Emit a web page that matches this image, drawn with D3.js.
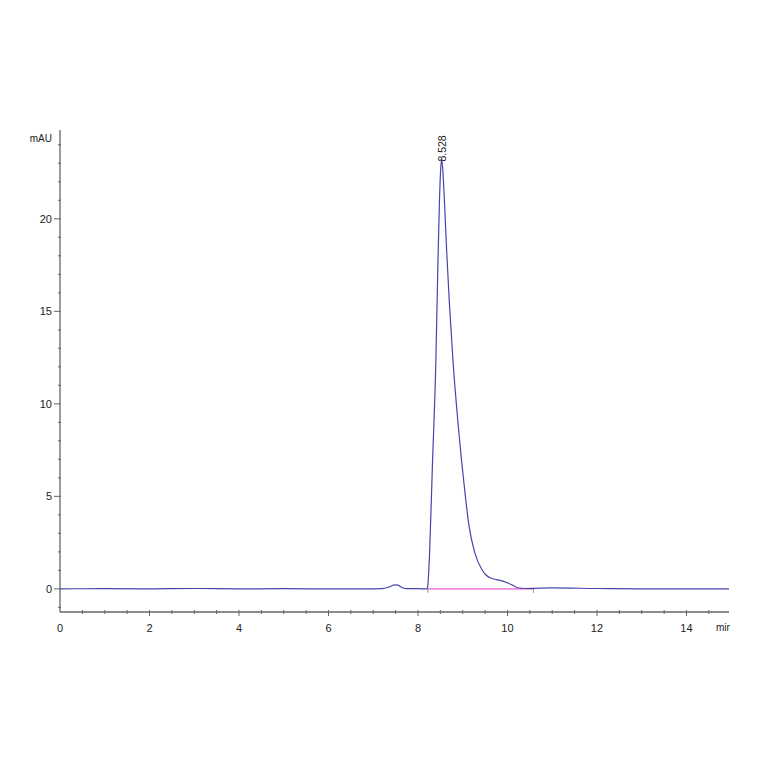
<!DOCTYPE html>
<html>
<head>
<meta charset="utf-8">
<script src="https://cdn.jsdelivr.net/npm/d3@7"></script>
<style>
  body { margin: 0; background: #fff; }
  svg text { font-family: "Liberation Sans", Arial, sans-serif; fill: #222; }
</style>
</head>
<body>
<svg id="chart" width="764" height="764"></svg>
<script>
// chromatogram trace (min, mAU)
var times = [0, 1, 2, 3, 4, 5, 6, 6.8, 7.2, 7.35, 7.45, 7.5, 7.55, 7.65, 7.75, 8.0, 8.2,
  8.22, 8.26, 8.32, 8.40, 8.44, 8.48, 8.51, 8.528, 8.55, 8.59, 8.64, 8.70, 8.78, 8.90,
  9.05, 9.14, 9.27, 9.43, 9.52, 9.61, 9.75, 9.88, 10.10, 10.23, 10.4, 10.6, 11, 12, 13, 14, 14.95];
var signal = [0, 0.01, 0, 0.02, 0, 0.01, 0, 0, 0.01, 0.1, 0.2, 0.22, 0.2, 0.06, 0.01, 0.01, 0,
  0.2, 2, 6.5, 12.4, 17, 21, 22.8, 23.2, 22.8, 21, 18.3, 15.5, 12.4, 8.8,
  5.2, 3.4, 1.95, 1.03, 0.75, 0.6, 0.5, 0.43, 0.22, 0.06, 0.02, 0.03, 0.05, 0.02, 0, 0, 0];

// integration baseline + peak label
var baseStart = 8.22, baseEnd = 10.58;
var peakTime = 8.528, peakHeight = 23.2, peakLabel = "8.528";

var xMajor = [0, 2, 4, 6, 8, 10, 12, 14];
var yMajor = [0, 5, 10, 15, 20];

var svg = d3.select("#chart");

var x = d3.scaleLinear().domain([0, 14.95]).range([60, 729]);
var y = d3.scaleLinear().domain([-1.25, 24.8]).range([612, 130]);

var axisColor = "#666";

// clip for the cut-off unit label at the right edge
svg.append("defs").append("clipPath").attr("id", "unitClip")
  .append("rect").attr("x", 700).attr("y", 612).attr("width", 30).attr("height", 30);

// x axis
var xAxisG = svg.append("g").attr("transform", "translate(0," + y.range()[0] + ")");
xAxisG.append("line").attr("x1", x.range()[0]).attr("x2", x.range()[1])
  .attr("y1", 0).attr("y2", 0).style("stroke", axisColor).style("stroke-width", 1.3);
xAxisG.selectAll("line.minor").data(d3.range(0.5, 14.95, 0.5)).enter().append("line")
  .attr("class", "minor")
  .attr("x1", function(d) { return x(d); }).attr("x2", function(d) { return x(d); })
  .attr("y1", -2).attr("y2", function(d) { return d % 2 === 0 ? 4 : 2; })
  .style("stroke", axisColor).style("stroke-width", 1);
xAxisG.selectAll("text.tick").data(xMajor).enter().append("text")
  .attr("class", "tick")
  .attr("x", function(d) { return x(d); }).attr("y", 20)
  .attr("font-size", "11px").style("text-anchor", "middle")
  .text(function(d) { return d; });

svg.append("text").attr("x", 716).attr("y", y.range()[0] + 19).attr("font-size", "10px")
  .attr("clip-path", "url(#unitClip)")
  .text("min");

// y axis
var yAxisG = svg.append("g").attr("transform", "translate(" + x.range()[0] + ",0)");
yAxisG.append("line").attr("x1", 0).attr("x2", 0)
  .attr("y1", y.range()[1]).attr("y2", y.range()[0])
  .style("stroke", axisColor).style("stroke-width", 1.3);
yAxisG.selectAll("line.minor").data(d3.range(-1, 25, 1)).enter().append("line")
  .attr("class", "minor")
  .attr("y1", function(d) { return y(d); }).attr("y2", function(d) { return y(d); })
  .attr("x1", function(d) { return d % 5 === 0 ? -6 : -2; }).attr("x2", 1)
  .style("stroke", axisColor).style("stroke-width", 1);
yAxisG.selectAll("text.tick").data(yMajor).enter().append("text")
  .attr("class", "tick")
  .attr("x", -8).attr("y", function(d) { return y(d) + 4; })
  .attr("font-size", "11px").style("text-anchor", "end")
  .text(function(d) { return d; });
yAxisG.append("text").attr("x", -8).attr("y", y.range()[1] + 12)
  .attr("font-size", "10px").style("text-anchor", "end").text("mAU");

// integration baseline
svg.append("line")
  .attr("x1", x(baseStart)).attr("x2", x(baseEnd))
  .attr("y1", y(0)).attr("y2", y(0))
  .style("stroke", "#f08ae0").style("stroke-width", 1.6);
svg.selectAll("line.mark").data([baseStart, baseEnd]).enter().append("line")
  .attr("class", "mark")
  .attr("x1", function(d) { return x(d); }).attr("x2", function(d) { return x(d); })
  .attr("y1", y(0) - 1).attr("y2", y(0) + 4)
  .style("stroke", "#777").style("stroke-width", 0.8);

// trace
var pts = times.map(function(t, i) { return [t, signal[i]]; });
var line = d3.line()
  .x(function(d) { return x(d[0]); })
  .y(function(d) { return y(d[1]); })
  .curve(d3.curveMonotoneX);
svg.append("path").datum(pts).attr("d", line)
  .style("fill", "none").style("stroke", "#4646aa").style("stroke-width", 1.2);

// peak label
svg.append("text")
  .attr("transform", "translate(" + (x(peakTime) + 4) + "," + (y(peakHeight) + 2) + ") rotate(-90)")
  .attr("font-size", "10.5px").style("text-anchor", "start")
  .text(peakLabel);
</script>
</body>
</html>
